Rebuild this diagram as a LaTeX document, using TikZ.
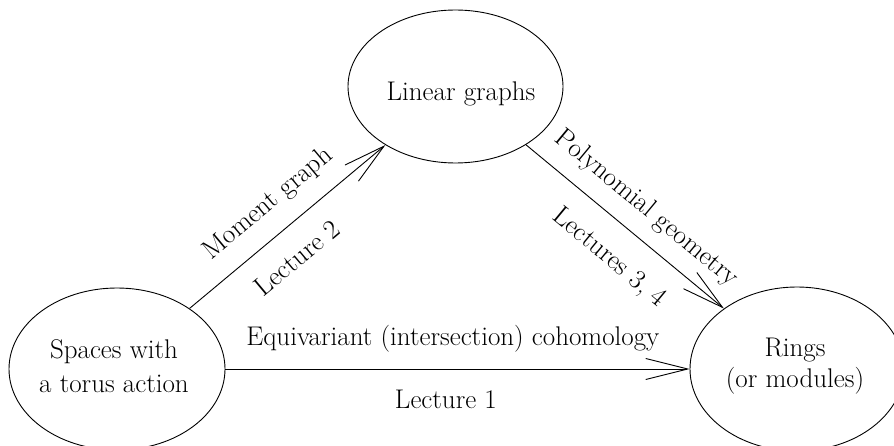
\documentclass[tikz,border=0pt]{standalone}
\usetikzlibrary{shapes.geometric,arrows.meta}
\begin{document}
\begin{tikzpicture}[x=1pt,y=-1pt,
  ell/.style={draw, ellipse, line width=0.9pt, inner sep=0pt},
  txt/.style={inner sep=0pt, align=center, font=\fontsize{27}{32}\selectfont},
  lbl/.style={inner sep=0pt, anchor=base, font=\fontsize{27}{32}\selectfont},
  arr/.style={line width=0.9pt, -{Straight Barb[length=42pt,width=21pt]}}]
\path[use as bounding box] (0,0) rectangle (894,446);
\node[ell, minimum width=215pt, minimum height=153pt] (T) at (455.5,86.5) {};
\node[ell, minimum width=216pt, minimum height=162pt] (L) at (117,369) {};
\node[ell, minimum width=214pt, minimum height=164pt] (R) at (797,369) {};
\node[txt] (Tt) at (461,94) {Linear graphs};
\node[txt, font=\fontsize{27}{33.7}\selectfont] (Lt) at (114,366.5) {Spaces with\\a torus action};
\node[txt, font=\fontsize{27}{31}\selectfont] (Rt) at (795,366) {Rings\\(or modules)};
\draw[arr] (L) -- (T)
  node[lbl, sloped, midway, yshift=23pt] {Moment graph}
  node[lbl, sloped, pos=0.45, yshift=-39pt] {Lecture 2};
\draw[arr] (T) -- (R)
  node[lbl, sloped, pos=0.52, yshift=21pt] {Polynomial geometry}
  node[lbl, sloped, pos=0.53, yshift=-41pt] {Lectures 3, 4};
\draw[arr] (L) -- (R)
  node[lbl, pos=0.49, yshift=24pt] {Equivariant (intersection) cohomology}
  node[lbl, pos=0.475, yshift=-39pt] {Lecture 1};
\end{tikzpicture}
\end{document}
